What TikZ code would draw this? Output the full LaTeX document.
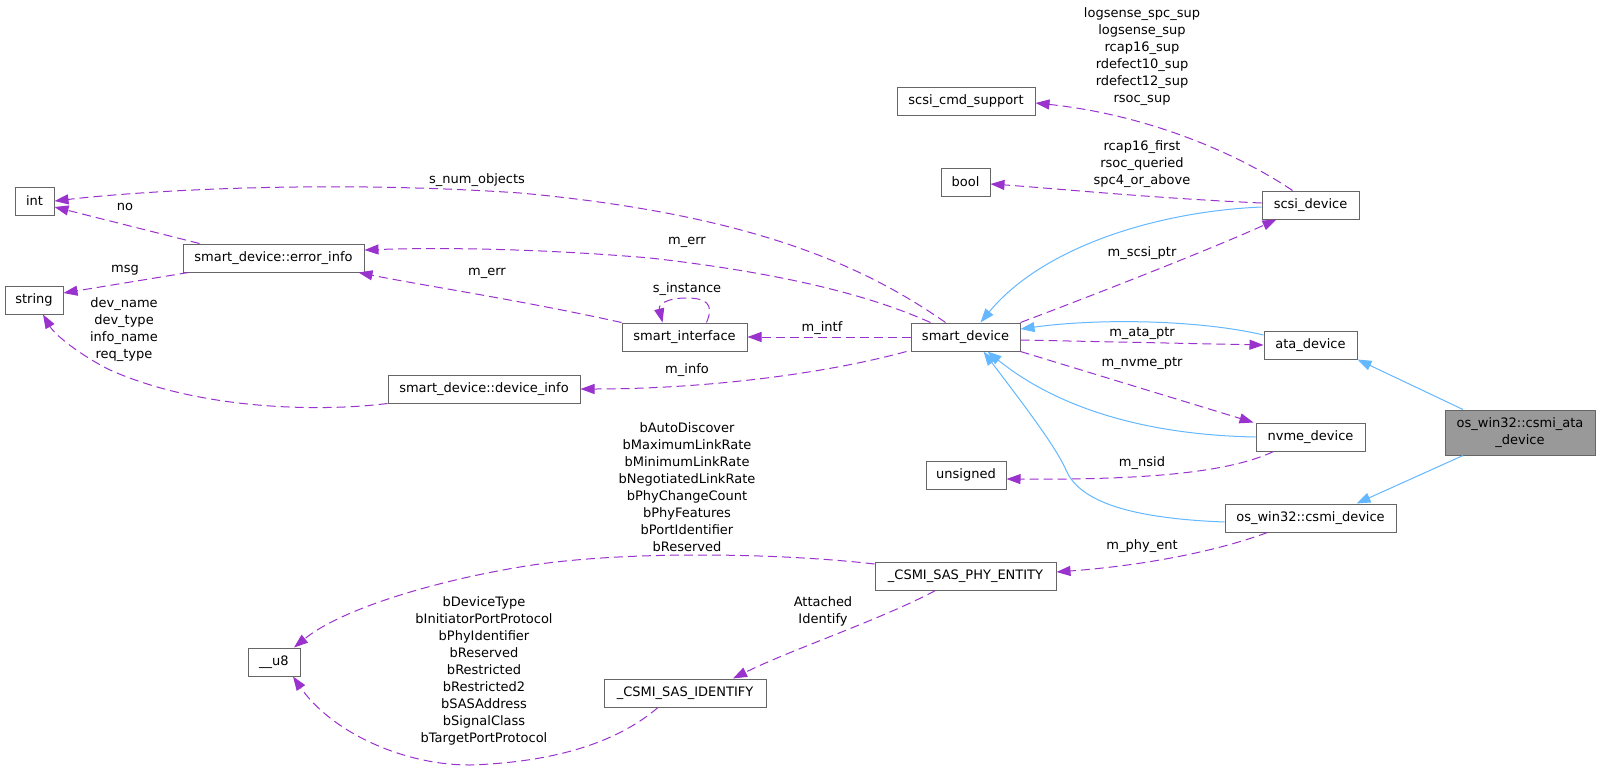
\documentclass[tikz,border=0pt]{standalone}
\usepackage{fontspec}
\setmainfont{DejaVu Sans}
\usetikzlibrary{arrows.meta}
\definecolor{depc}{HTML}{9A32CD}
\definecolor{inhc}{HTML}{63B8FF}
\definecolor{bordc}{HTML}{666666}
\definecolor{rootc}{HTML}{999999}
\tikzset{
 box/.style={draw=bordc, line width=1pt, fill=white, inner sep=0pt, minimum height=28pt, align=center, font=\fontsize{13}{17}\selectfont},
 lbl/.style={inner sep=0pt, align=center, font=\fontsize{13}{17}\selectfont},
 depedge/.style={draw=depc, line width=1pt, dash pattern=on 9pt off 5pt, -{Triangle[length=14pt,width=10pt]}},
 inhedge/.style={draw=inhc, line width=1pt, -{Triangle[length=14pt,width=10pt]}},
}
\begin{document}
\begin{tikzpicture}[x=1pt,y=-1pt]
\path[use as bounding box, fill=white] (0,0) rectangle (1600,771);
% nodes
\node[box, minimum width=39pt] (int) at (34.5,201) {int};
\node[box, minimum width=58pt] (str) at (34,300) {string};
\node[box, minimum width=181pt] (ei) at (273.5,258) {smart\_device::error\_info};
\node[box, minimum width=192pt] (de) at (484,389) {smart\_device::device\_info};
\node[box, minimum width=125pt] (si) at (684.5,337) {smart\_interface};
\node[box, minimum width=109pt] (sd) at (965.5,337) {smart\_device};
\node[box, minimum width=138pt] (scmd) at (966,101) {scsi\_cmd\_support};
\node[box, minimum width=49pt] (bool) at (965.5,182) {bool};
\node[box, minimum width=97pt] (scsi) at (1310.5,205) {scsi\_device};
\node[box, minimum width=93pt] (ata) at (1310.5,345) {ata\_device};
\node[box, minimum width=109pt] (nvme) at (1310.5,437) {nvme\_device};
\node[box, minimum width=80pt] (uns) at (966,475) {unsigned};
\node[box, minimum width=171pt] (csmi) at (1310.5,518) {os\_win32::csmi\_device};
\node[box, minimum width=150pt, minimum height=45pt, fill=rootc] (root) at (1520,432.5) {os\_win32::csmi\_ata\\\_device};
\node[box, minimum width=181pt] (phy) at (965.5,576) {\_CSMI\_SAS\_PHY\_ENTITY};
\node[box, minimum width=162pt] (ident) at (685,693) {\_CSMI\_SAS\_IDENTIFY};
\node[box, minimum width=52pt] (u8) at (274,662) {\_\_u8};
% edges
\draw[depedge] ([xshift=-20pt]sd.north) .. controls (870,270) and (760,215) .. (520,193) .. controls (330,180) and (150,190) .. (int.east);
\node[lbl] (l1) at (477,180) {s\_num\_objects};
\draw[depedge] ([xshift=-35pt]sd.north) .. controls (880,300) and (800,275) .. (650,258) .. controls (520,247) and (420,248) .. ([yshift=8pt]ei.east);
\node[lbl] (l2) at (687,242) {m\_err};
\draw[depedge] (si.north west) .. controls (520,300) and (420,285) .. ([xshift=-6pt]ei.south east);
\node[lbl] (l3) at (487,273) {m\_err};
\draw[depedge] ([xshift=22pt]si.north) .. controls (715,303) and (705,298) .. (686,298) .. controls (668,298) and (658,304) .. ([xshift=-22pt]si.north);
\node[lbl] (l4) at (687,289) {s\_instance};
\draw[depedge] (sd.west) -- (si.east);
\node[lbl] (l5) at (822,328) {m\_intf};
\draw[depedge] ([xshift=-4pt]sd.south west) .. controls (820,375) and (700,389) .. (de.east);
\node[lbl] (l6) at (687,370) {m\_info};
\draw[depedge] ([xshift=17pt]ei.north west) -- ([yshift=-6pt]int.east);
\node[lbl] (l7) at (125,207) {no};
\draw[depedge] ([xshift=6pt]ei.south west) -- ([yshift=7pt]str.east);
\node[lbl] (l8) at (125,270) {msg};
\draw[depedge] (de.south west) .. controls (320,412) and (200,410) .. (110,370) .. controls (80,355) and (55,335) .. ([xshift=9pt]str.south);
\node[lbl] (l9) at (124,329.5) {dev\_name\\dev\_type\\info\_name\\req\_type};
\draw[depedge] ([xshift=-18pt]scsi.north) .. controls (1240,155) and (1150,115) .. ([yshift=-2pt]scmd.east);
\node[lbl] (l10) at (1142,56.5) {logsense\_spc\_sup\\logsense\_sup\\rcap16\_sup\\rdefect10\_sup\\rdefect12\_sup\\rsoc\_sup};
\draw[depedge] ([yshift=2pt]scsi.west) .. controls (1150,198) and (1050,188) .. ([yshift=-2pt]bool.east);
\node[lbl] (l11) at (1142,164) {rcap16\_first\\rsoc\_queried\\spc4\_or\_above};
\draw[inhedge] ([yshift=-2pt]scsi.west) .. controls (1150,212) and (1040,250) .. ([xshift=15pt]sd.north);
\draw[depedge] (sd.north east) .. controls (1120,285) and (1220,245) .. ([xshift=-34pt]scsi.south);
\node[lbl] (l12) at (1142,253) {m\_scsi\_ptr};
\draw[inhedge] ([yshift=10pt]ata.west) .. controls (1200,320) and (1100,318) .. ([yshift=8pt]sd.east);
\draw[depedge] ([yshift=-3pt]sd.east) -- (ata.west);
\node[lbl] (l13) at (1142,333) {m\_ata\_ptr};
\draw[depedge] (sd.south east) -- ([xshift=-57pt]nvme.north);
\node[lbl] (l14) at (1142,363) {m\_nvme\_ptr};
\draw[inhedge] (nvme.west) .. controls (1150,435) and (1060,410) .. ([xshift=22pt]sd.south);
\draw[depedge] ([xshift=-37pt]nvme.south) .. controls (1230,472) and (1150,480) .. ([yshift=-4pt]uns.east);
\node[lbl] (l15) at (1142,463) {m\_nsid};
\draw[inhedge] ([yshift=-4pt]csmi.west) .. controls (1120,518) and (1078,498) .. (1066,470) .. controls (1055,445) and (1020,400) .. ([xshift=18pt]sd.south);
\draw[inhedge] ([xshift=-57pt]root.north) -- (ata.south east);
\draw[inhedge] ([xshift=-57pt]root.south) -- ([xshift=46pt]csmi.north);
\draw[depedge] ([xshift=-43pt]csmi.south) .. controls (1220,550) and (1150,565) .. ([yshift=4pt]phy.east);
\node[lbl] (l16) at (1142,546) {m\_phy\_ent};
\draw[depedge] ([yshift=12pt]phy.west) .. controls (780,553) and (620,550) .. (520,567) .. controls (430,582) and (340,610) .. ([xshift=20pt]u8.north);
\node[lbl] (l17) at (687,487.5) {bAutoDiscover\\bMaximumLinkRate\\bMinimumLinkRate\\bNegotiatedLinkRate\\bPhyChangeCount\\bPhyFeatures\\bPortIdentifier\\bReserved};
\draw[depedge] ([xshift=-30pt]phy.south) .. controls (880,620) and (790,650) .. ([xshift=48pt]ident.north);
\node[lbl] (l18) at (823,611.5) {Attached\\Identify};
\draw[depedge] ([xshift=-27pt]ident.south) .. controls (620,740) and (560,762) .. (470,765) .. controls (400,765) and (330,730) .. ([xshift=19pt]u8.south);
\node[lbl] (l19) at (484,671) {bDeviceType\\bInitiatorPortProtocol\\bPhyIdentifier\\bReserved\\bRestricted\\bRestricted2\\bSASAddress\\bSignalClass\\bTargetPortProtocol};
\end{tikzpicture}
\end{document}
